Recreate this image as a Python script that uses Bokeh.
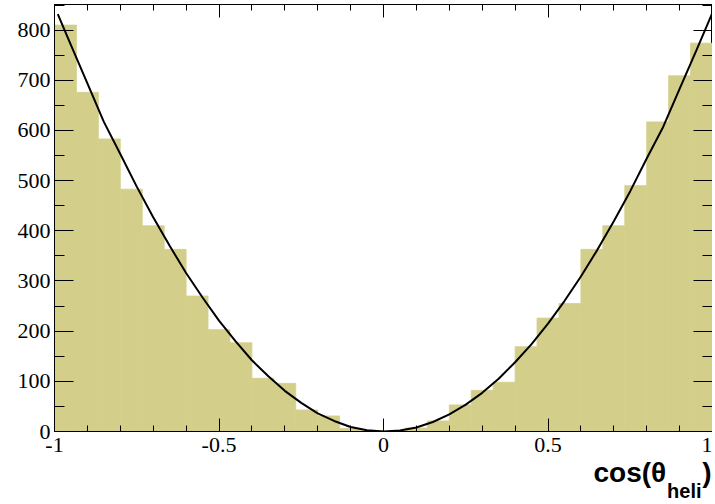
import numpy as np
from bokeh.plotting import figure
from bokeh.models import (Range1d, SingleIntervalTicker, LinearAxis, Title, ColumnDataSource,
                          CustomLabelingPolicy)
from bokeh.embed import file_html
from bokeh.resources import INLINE

# ---- data ----
bin_edges = np.linspace(-1.0, 1.0, 31)
counts = [810, 676, 583, 483, 410, 363, 270, 203, 177, 106, 96, 43, 31, 6, 2,
          1, 7, 21, 53, 82, 98, 169, 226, 255, 363, 410, 490, 617, 709, 774]

# fitted curve at regular points
curve_x = [-0.99, -0.95, -0.9, -0.85, -0.8, -0.75, -0.7, -0.65, -0.6, -0.55, -0.5,
           -0.45, -0.4, -0.35, -0.3, -0.25, -0.2, -0.15, -0.1, -0.05, 0.0,
           0.05, 0.1, 0.15, 0.2, 0.25, 0.3, 0.35, 0.4, 0.45, 0.5,
           0.55, 0.6, 0.65, 0.7, 0.75, 0.8, 0.85, 0.9, 0.95, 1.0]
curve_y = [832, 770, 694, 617, 553, 488, 427, 370, 316, 267, 221,
           180, 142, 110, 81, 57, 36, 21, 9, 2.5, 0,
           1.9, 8, 19, 34, 53.5, 77, 105, 138, 174, 215,
           260, 309, 362, 419, 479, 544, 607, 683, 758, 835]

x_tick_labels = {-1: "-1", -0.5: "-0.5", 0: "0", 0.5: "0.5", 1: "1"}
x_title_main = "cos(θ\u2002\u2002\u2009\u200a)"
x_title_sub = "heli"

BAR = "#d3cf8b"
SERIF = "Liberation Serif"
SANS = "Liberation Sans"

p = figure(output_backend="svg", toolbar_location=None,
           x_range=Range1d(-1, 1), y_range=Range1d(0, 851),
           min_border_left=54, min_border_right=0, min_border_top=4, min_border_bottom=73,
           frame_width=658, frame_height=427,
           x_axis_type=None, y_axis_type=None)
p.background_fill_color = "white"
p.border_fill_color = "white"
p.outline_line_color = "black"
p.outline_line_width = 1
p.xgrid.visible = False
p.ygrid.visible = False

src = ColumnDataSource(dict(left=bin_edges[:-1], right=bin_edges[1:], top=counts,
                            bottom=[0] * len(counts)))
p.quad(left="left", right="right", top="top", bottom="bottom", source=src,
       fill_color=BAR, line_color=BAR, line_width=0.8)
p.line(curve_x, curve_y, line_color="black", line_width=2)

no_labels = CustomLabelingPolicy(code="""
for (const i of Array.from(indices)) indices.unset(i);
return indices;
""")


def style_axis(ax, major_in, minor_in, labels=True):
    ax.axis_line_color = "black"
    ax.major_tick_line_color = "black"
    ax.minor_tick_line_color = "black"
    ax.major_tick_in = major_in
    ax.major_tick_out = 0
    ax.minor_tick_in = minor_in
    ax.minor_tick_out = 0
    if labels:
        ax.major_label_text_font = SERIF
        ax.major_label_text_font_size = "22px"
        ax.major_label_text_color = "black"
    else:
        ax.major_label_text_font_size = "0px"
        ax.major_label_standoff = 0
        ax.major_label_policy = no_labels


xb = LinearAxis(ticker=SingleIntervalTicker(interval=0.5, num_minor_ticks=5))
style_axis(xb, 13, 6)
xb.major_label_overrides = x_tick_labels
xb.major_label_standoff = 6
p.add_layout(xb, "below")

xt = LinearAxis(ticker=SingleIntervalTicker(interval=0.5, num_minor_ticks=5))
style_axis(xt, 13, 6, labels=False)
p.add_layout(xt, "above")

yl = LinearAxis(ticker=SingleIntervalTicker(interval=100, num_minor_ticks=2))
style_axis(yl, 19, 10)
yl.major_label_standoff = 4
p.add_layout(yl, "left")

yr = LinearAxis(ticker=SingleIntervalTicker(interval=100, num_minor_ticks=2))
style_axis(yr, 19, 10, labels=False)
p.add_layout(yr, "right")

# axis title cos(θ_heli) as two titles under the axis
t_main = Title(text=x_title_main, align="right", offset=1, standoff=0,
               text_font=SANS, text_font_style="bold", text_font_size="28px",
               text_color="black")
t_sub = Title(text=x_title_sub, align="right", offset=11, standoff=-19,
              text_font=SANS, text_font_style="bold", text_font_size="20px",
              text_color="black")
p.add_layout(t_main, "below")
p.add_layout(t_sub, "below")

open("out.html", "w").write(file_html(p, INLINE))
